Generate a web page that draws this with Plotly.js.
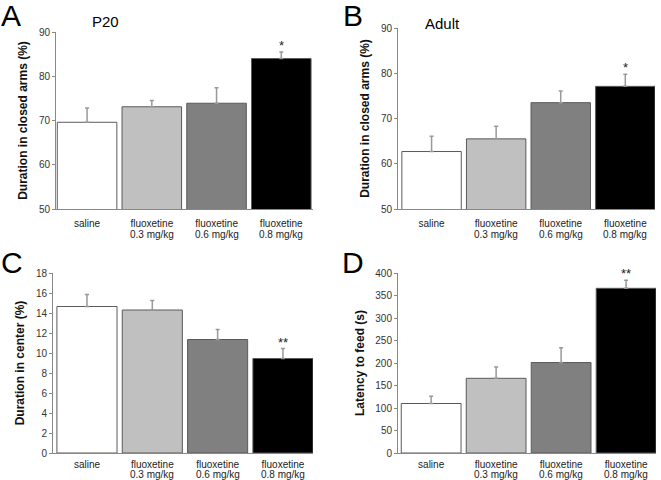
<!DOCTYPE html>
<html><head><meta charset="utf-8">
<script src="https://cdn.plot.ly/plotly-3.0.1.min.js"></script>
<style>html,body{margin:0;padding:0;background:#fff}#c{width:661px;height:480px}</style>
</head><body><div id="c"></div>
<script>
var categories = ['saline', 'fluoxetine', 'fluoxetine', 'fluoxetine'];
var doses = ['', '0.3 mg/kg', '0.6 mg/kg', '0.8 mg/kg'];
var colors = ['#ffffff', '#c0c0c0', '#808080', '#000000'];

var aValues = [69.6, 73.1, 73.9, 84.0];
var aErrors = [3.2, 1.4, 3.5, 1.5];
var aSig = ['', '', '', '*'];

var bValues = [62.7, 65.5, 73.5, 77.1];
var bErrors = [3.4, 2.8, 2.6, 2.7];
var bSig = ['', '', '', '*'];

var cValues = [14.65, 14.3, 11.35, 9.45];
var cErrors = [1.2, 0.95, 1.0, 1.0];
var cSig = ['', '', '', '**'];

var dValues = [110, 166, 201, 366];
var dErrors = [16, 25, 33, 18];
var dSig = ['', '', '', '**'];

var W = 661, H = 480;
var panels = [
  {v: aValues, e: aErrors, s: aSig, xd: [56, 313], yd: [32, 209], yr: [50, 90], dt: 10, xr: [-0.48, 3.49], yt: 'Duration in closed arms (%)', letter: 'A', lx: 11, ly: 15, sub: 'P20', sx: 105, sy: 22, so: 5, d2: 25},
  {v: bValues, e: bErrors, s: bSig, xd: [398, 655], yd: [28, 209], yr: [50, 90], dt: 10, xr: [-0.52, 3.46], yt: 'Duration in closed arms (%)', letter: 'B', lx: 353, ly: 15, sub: 'Adult', sx: 442, sy: 23, so: 5, d2: 25},
  {v: cValues, e: cErrors, s: cSig, xd: [53, 313], yd: [273, 453], yr: [0, 18], dt: 2, xr: [-0.52, 3.46], yt: 'Duration in center (%)', letter: 'C', lx: 12, ly: 262, so: 2, d2: 21},
  {v: dValues, e: dErrors, s: dSig, xd: [398, 656], yd: [273, 453], yr: [0, 400], dt: 50, xr: [-0.51, 3.46], yt: 'Latency to feed (s)', letter: 'D', lx: 353, ly: 262, so: 2, d2: 21}
];

var data = [], layout = {
  width: W, height: H, margin: {l: 0, r: 0, t: 0, b: 0},
  paper_bgcolor: '#fff', plot_bgcolor: 'rgba(0,0,0,0)', showlegend: false,
  font: {family: 'Liberation Sans, Arial, sans-serif', color: '#222'},
  annotations: []
};
var xs = [0, 1, 2, 3];
panels.forEach(function (p, i) {
  var n = i === 0 ? '' : String(i + 1);
  data.push({
    type: 'bar', x: xs, y: p.v, width: 0.92, xaxis: 'x' + n, yaxis: 'y' + n,
    marker: {color: colors, line: {color: '#5a5a5a', width: 1}},
    error_y: {type: 'data', array: p.e, arrayminus: [0, 0, 0, 0], symmetric: false, color: '#999', thickness: 1.5, width: 2},
    hoverinfo: 'none'
  });
  layout['xaxis' + n] = {
    domain: [p.xd[0] / W, p.xd[1] / W], range: p.xr, anchor: 'y' + n,
    tickmode: 'array', tickvals: xs, ticktext: categories, ticks: '', ticklabelstandoff: p.so,
    showline: true, linecolor: '#888', linewidth: 1, showgrid: false, zeroline: false,
    tickfont: {size: 10, color: '#222'}, fixedrange: true
  };
  layout['yaxis' + n] = {
    domain: [1 - p.yd[1] / H, 1 - p.yd[0] / H], range: p.yr, dtick: p.dt, anchor: 'x' + n,
    showline: true, linecolor: '#888', linewidth: 1, ticks: 'outside', ticklen: 3, tickcolor: '#888',
    showgrid: false, zeroline: false, tickfont: {size: 10, color: '#333'},
    title: {text: '<b>' + p.yt + '</b>', font: {size: 12, color: '#111'}, standoff: 8}, fixedrange: true
  };
  layout.annotations.push({xref: 'paper', yref: 'paper', x: p.lx / W, y: 1 - p.ly / H, text: p.letter, showarrow: false, font: {size: 30, color: '#000'}, xanchor: 'center', yanchor: 'middle'});
  if (p.sub) layout.annotations.push({xref: 'paper', yref: 'paper', x: p.sx / W, y: 1 - p.sy / H, text: p.sub, showarrow: false, font: {size: 15, color: '#000'}, xanchor: 'center', yanchor: 'middle'});
  doses.forEach(function (t, k) {
    if (!t) return;
    layout.annotations.push({xref: 'x' + n, yref: 'y' + n + ' domain', x: xs[k], y: 0, text: t, showarrow: false, yanchor: 'middle', yshift: -p.d2, borderpad: 0, font: {size: 10, color: '#222'}});
  });
  p.s.forEach(function (t, k) {
    if (!t) return;
    layout.annotations.push({xref: 'x' + n, yref: 'y' + n, x: xs[k], y: p.v[k] + p.e[k], text: t, showarrow: false, yanchor: 'bottom', yshift: -3, font: {size: 13, color: '#222'}});
  });
});
Plotly.newPlot('c', data, layout, {staticPlot: true});
</script></body></html>
